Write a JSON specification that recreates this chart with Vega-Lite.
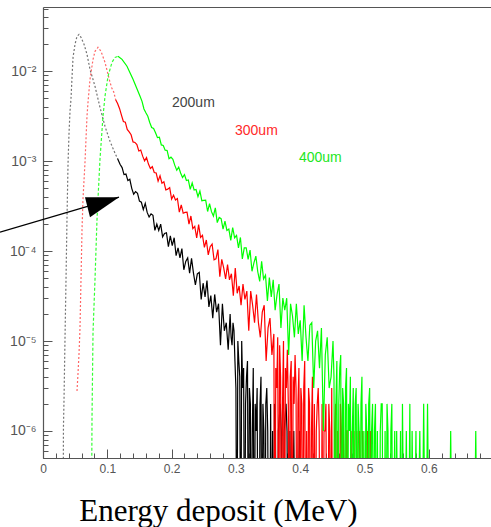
{
  "$schema": "https://vega.github.io/schema/vega-lite/v6.json",
  "width": 448,
  "height": 451,
  "autosize": {"type": "none"},
  "padding": {"left": 43, "top": 7, "right": 0, "bottom": 69},
  "background": "white",
  "config": {"view": {"stroke": null}},
  "datasets": {
    "e200": [
      {"E":0.031,"f":1e-8},{"E":0.0318,"f":1.1e-6},{"E":0.0327,"f":2.27e-6},{"E":0.0342,"f":1.05e-5},{"E":0.0358,"f":4.89e-5},{"E":0.0373,"f":2.27e-4},{"E":0.0389,"f":9.27e-4},{"E":0.0404,"f":2.0e-3},{"E":0.042,"f":3.6e-3},{"E":0.0435,"f":4.89e-3},{"E":0.0451,"f":8.57e-3},{"E":0.0467,"f":1.43e-2},{"E":0.0498,"f":2.0e-2},{"E":0.0529,"f":2.45e-2},{"E":0.056,"f":2.58e-2},{"E":0.0591,"f":2.39e-2},{"E":0.0638,"f":2.0e-2},{"E":0.0684,"f":1.55e-2},{"E":0.0731,"f":1.05e-2},{"E":0.077,"f":8.47e-3},{"E":0.0809,"f":6.81e-3},{"E":0.085,"f":5.12e-3},{"E":0.0886,"f":3.98e-3},{"E":0.0925,"f":3.12e-3},{"E":0.0964,"f":2.45e-3},{"E":0.1003,"f":2.02e-3},{"E":0.1042,"f":1.67e-3},{"E":0.1081,"f":1.43e-3},{"E":0.112,"f":1.23e-3},{"E":0.1159,"f":1.07e-3}
    ],
    "d200": [
      {"E":0.1159,"f":1.07e-3},{"E":0.1198,"f":9.27e-4},
      {"E":0.123,"f":8.5e-4},{"E":0.126,"f":7.1e-4},{"E":0.129,"f":7.2e-4},{"E":0.132,"f":6.1e-4},{"E":0.135,"f":6.3e-4},{"E":0.138,"f":5.0e-4},{"E":0.141,"f":4.3e-4},{"E":0.144,"f":4.6e-4},{"E":0.147,"f":4.4e-4},{"E":0.15,"f":3.6e-4},{"E":0.153,"f":3.5e-4},{"E":0.156,"f":2.9e-4},{"E":0.159,"f":3.4e-4},{"E":0.162,"f":2.7e-4},{"E":0.165,"f":2.4e-4},{"E":0.168,"f":2.6e-4},{"E":0.171,"f":2.5e-4},{"E":0.174,"f":1.7e-4},{"E":0.177,"f":2.0e-4},{"E":0.18,"f":1.7e-4},{"E":0.183,"f":2.0e-4},{"E":0.186,"f":1.44e-4},{"E":0.189,"f":1.57e-4},{"E":0.192,"f":1.6e-4},{"E":0.195,"f":1.12e-4},{"E":0.198,"f":1.48e-4},{"E":0.201,"f":1.15e-4},{"E":0.204,"f":1.41e-4},{"E":0.207,"f":8.9e-5},{"E":0.21,"f":1.09e-4},{"E":0.213,"f":8.4e-5},{"E":0.216,"f":1.07e-4},{"E":0.219,"f":6.2e-5},{"E":0.222,"f":7.7e-5},{"E":0.225,"f":8.4e-5},{"E":0.228,"f":5.7e-5},{"E":0.231,"f":8.3e-5},{"E":0.234,"f":5.7e-5},{"E":0.237,"f":4.2e-5},{"E":0.24,"f":5.6e-5},{"E":0.243,"f":5.8e-5},{"E":0.246,"f":2.9e-5},{"E":0.249,"f":4.4e-5},{"E":0.252,"f":3.1e-5},{"E":0.255,"f":4.7e-5},{"E":0.258,"f":2.4e-5},{"E":0.261,"f":3.2e-5},{"E":0.264,"f":1.8e-5},{"E":0.267,"f":3.3e-5},{"E":0.27,"f":2.1e-5},{"E":0.273,"f":2.6e-5},{"E":0.276,"f":9e-6},{"E":0.279,"f":2.6e-5},{"E":0.282,"f":1.3e-5},{"E":0.285,"f":1.6e-5},{"E":0.288,"f":8e-6},{"E":0.291,"f":2.0e-5},{"E":0.294,"f":9e-6},{"E":0.297,"f":1.3e-5},{"E":0.3,"f":3e-6},{"E":0.303,"f":1e-5},{"E":0.306,"f":4e-6},{"E":0.309,"f":1e-5},{"E":0.312,"f":5e-6},{"E":0.315,"f":2e-6},{"E":0.318,"f":6e-6},{"E":0.321,"f":3e-6},{"E":0.324,"f":1e-8},{"E":0.327,"f":5e-6},{"E":0.33,"f":2e-6},{"E":0.333,"f":3e-6},{"E":0.336,"f":1e-8},{"E":0.339,"f":4e-6},{"E":0.342,"f":2e-6},{"E":0.345,"f":1e-8},{"E":0.348,"f":3e-6},{"E":0.351,"f":1e-8},{"E":0.354,"f":2e-6},{"E":0.357,"f":1e-6},{"E":0.36,"f":2e-6},{"E":0.363,"f":1e-8},{"E":0.366,"f":1e-6},{"E":0.369,"f":2e-6},{"E":0.372,"f":1e-8},{"E":0.375,"f":1e-6},{"E":0.378,"f":2e-6},{"E":0.381,"f":1e-8},{"E":0.384,"f":1e-6},{"E":0.387,"f":1e-8},{"E":0.39,"f":1e-6},{"E":0.393,"f":1e-8},{"E":0.399,"f":1e-6},{"E":0.402,"f":1e-8},
      {"E":0.2925,"f":1.1e-5},{"E":0.2955,"f":1.6e-5},{"E":0.2985,"f":6e-6},{"E":0.3015,"f":1e-8},{"E":0.3045,"f":6e-6},{"E":0.3075,"f":1e-8},{"E":0.3105,"f":3e-6},{"E":0.3135,"f":1e-8},{"E":0.3165,"f":4e-6},{"E":0.3195,"f":1e-8},{"E":0.3225,"f":2e-6},{"E":0.3255,"f":1e-6},{"E":0.3285,"f":1e-8},{"E":0.3315,"f":1e-6},{"E":0.3345,"f":1e-8},{"E":0.3375,"f":2e-6},{"E":0.3405,"f":1e-8},{"E":0.3435,"f":1e-6},{"E":0.3465,"f":2e-6},{"E":0.3495,"f":1e-6},{"E":0.3525,"f":1e-8},{"E":0.3555,"f":1e-8},{"E":0.3585,"f":1e-8},{"E":0.3615,"f":1e-6},{"E":0.3645,"f":1e-8},{"E":0.3705,"f":1e-6},{"E":0.3735,"f":1e-8},{"E":0.3795,"f":1e-6},{"E":0.3825,"f":1e-8}
    ],
    "e300": [
      {"E":0.0529,"f":2.78e-6},{"E":0.0544,"f":4.3e-6},{"E":0.056,"f":7.2e-6},{"E":0.0575,"f":1.36e-5},{"E":0.0591,"f":4.89e-5},{"E":0.0607,"f":1.75e-4},{"E":0.0622,"f":3.78e-4},{"E":0.0653,"f":9.75e-4},{"E":0.0684,"f":3.16e-3},{"E":0.07,"f":4.53e-3},{"E":0.0731,"f":8.15e-3},{"E":0.0778,"f":1.36e-2},{"E":0.0809,"f":1.67e-2},{"E":0.0855,"f":1.85e-2},{"E":0.0902,"f":1.67e-2},{"E":0.0964,"f":1.26e-2},{"E":0.1042,"f":7.55e-3},{"E":0.107,"f":6.53e-3},{"E":0.11,"f":5.9e-3},{"E":0.113,"f":4.83e-3}
    ],
    "d300": [
      {"E":0.113,"f":4.83e-3},{"E":0.116,"f":4.38e-3},{"E":0.119,"f":3.87e-3},{"E":0.122,"f":3.26e-3},{"E":0.125,"f":2.77e-3},{"E":0.128,"f":2.72e-3},{"E":0.131,"f":2.26e-3},{"E":0.134,"f":2.12e-3},{"E":0.137,"f":1.97e-3},{"E":0.14,"f":1.64e-3},{"E":0.143,"f":1.62e-3},{"E":0.146,"f":1.53e-3},{"E":0.149,"f":1.3e-3},{"E":0.152,"f":1.33e-3},{"E":0.155,"f":1.14e-3},{"E":0.158,"f":1.01e-3},{"E":0.161,"f":1.1e-3},{"E":0.164,"f":9.3e-4},{"E":0.167,"f":8.3e-4},{"E":0.17,"f":8.7e-4},{"E":0.173,"f":7.5e-4},{"E":0.176,"f":7.4e-4},{"E":0.179,"f":6.0e-4},{"E":0.182,"f":6.9e-4},{"E":0.185,"f":5.7e-4},{"E":0.188,"f":5.9e-4},{"E":0.191,"f":4.8e-4},{"E":0.194,"f":4.9e-4},{"E":0.197,"f":5.1e-4},{"E":0.2,"f":3.8e-4},{"E":0.203,"f":4.2e-4},{"E":0.206,"f":3.7e-4},{"E":0.209,"f":3.85e-4},{"E":0.212,"f":2.72e-4},{"E":0.215,"f":3.27e-4},{"E":0.218,"f":2.64e-4},{"E":0.221,"f":2.7e-4},{"E":0.224,"f":2.71e-4},{"E":0.227,"f":2.0e-4},{"E":0.23,"f":2.46e-4},{"E":0.233,"f":1.78e-4},{"E":0.236,"f":1.89e-4},{"E":0.239,"f":1.4e-4},{"E":0.242,"f":1.97e-4},{"E":0.245,"f":1.42e-4},{"E":0.248,"f":1.5e-4},{"E":0.251,"f":1.1e-4},{"E":0.254,"f":1.33e-4},{"E":0.257,"f":9.1e-5},{"E":0.26,"f":1.12e-4},{"E":0.263,"f":1.2e-4},{"E":0.266,"f":8.0e-5},{"E":0.269,"f":8.2e-5},{"E":0.272,"f":1.04e-4},{"E":0.275,"f":5.2e-5},{"E":0.278,"f":8.1e-5},{"E":0.281,"f":6.5e-5},{"E":0.284,"f":4.9e-5},{"E":0.287,"f":7.1e-5},{"E":0.29,"f":4.8e-5},{"E":0.293,"f":5.6e-5},{"E":0.296,"f":3.2e-5},{"E":0.299,"f":6.5e-5},{"E":0.302,"f":3.4e-5},{"E":0.305,"f":4.1e-5},{"E":0.308,"f":2.5e-5},{"E":0.311,"f":4.3e-5},{"E":0.314,"f":2.9e-5},{"E":0.317,"f":3.6e-5},{"E":0.32,"f":1.3e-5},{"E":0.323,"f":3.6e-5},{"E":0.326,"f":2.5e-5},{"E":0.329,"f":1.6e-5},{"E":0.332,"f":3.3e-5},{"E":0.335,"f":1.6e-5},{"E":0.338,"f":1.1e-5},{"E":0.341,"f":2.1e-5},{"E":0.344,"f":2.5e-5},{"E":0.347,"f":6e-6},{"E":0.35,"f":1.4e-5},{"E":0.353,"f":1.8e-5},{"E":0.356,"f":7e-6},{"E":0.359,"f":1.2e-5},{"E":0.362,"f":5e-6},{"E":0.365,"f":1.1e-5},{"E":0.368,"f":9e-6},{"E":0.371,"f":1e-8},{"E":0.374,"f":1.0e-5},{"E":0.377,"f":5e-6},{"E":0.38,"f":8e-6},{"E":0.383,"f":1e-8},{"E":0.386,"f":6e-6},{"E":0.389,"f":4e-6},{"E":0.392,"f":7e-6},{"E":0.395,"f":1e-8},{"E":0.398,"f":5e-6},{"E":0.401,"f":3e-6},{"E":0.404,"f":1e-8},{"E":0.407,"f":6e-6},{"E":0.41,"f":1e-6},{"E":0.413,"f":3e-6},{"E":0.416,"f":1e-8},{"E":0.419,"f":4e-6},{"E":0.422,"f":2e-6},{"E":0.425,"f":1e-6},{"E":0.428,"f":3e-6},{"E":0.431,"f":1e-8},{"E":0.434,"f":2e-6},{"E":0.437,"f":1e-6},{"E":0.44,"f":2e-6},{"E":0.443,"f":1e-8},{"E":0.446,"f":1e-6},{"E":0.449,"f":3e-6},{"E":0.452,"f":1e-8},{"E":0.455,"f":2e-6},{"E":0.458,"f":1e-6},{"E":0.461,"f":1e-8},{"E":0.464,"f":1e-6},{"E":0.467,"f":2e-6},{"E":0.47,"f":1e-8},{"E":0.473,"f":1e-6},{"E":0.476,"f":1e-8},{"E":0.479,"f":1e-6},{"E":0.482,"f":1e-8},{"E":0.488,"f":1e-6},{"E":0.491,"f":1e-8},{"E":0.497,"f":1e-6},{"E":0.5,"f":1e-8},{"E":0.509,"f":1e-6},{"E":0.512,"f":1e-8},
      {"E":0.3605,"f":1e-8},{"E":0.3635,"f":3e-6},{"E":0.3665,"f":1e-8},{"E":0.3695,"f":4e-6},{"E":0.3725,"f":2e-6},{"E":0.3755,"f":1e-8},{"E":0.3785,"f":3e-6},{"E":0.3815,"f":2e-6},{"E":0.3845,"f":4e-6},{"E":0.3875,"f":1e-8},{"E":0.3905,"f":2e-6},{"E":0.3935,"f":3e-6},{"E":0.3965,"f":2e-6},{"E":0.3995,"f":1e-8},{"E":0.4025,"f":2e-6},{"E":0.4055,"f":3e-6},{"E":0.4085,"f":1e-8},{"E":0.4115,"f":1e-8},{"E":0.4145,"f":2e-6},{"E":0.4175,"f":1e-6},{"E":0.4205,"f":1e-8},{"E":0.4235,"f":1e-8},{"E":0.4265,"f":2e-6},{"E":0.4295,"f":1e-6},{"E":0.4325,"f":1e-8},{"E":0.4355,"f":1e-8},{"E":0.4385,"f":1e-6},{"E":0.4415,"f":1e-8},{"E":0.4445,"f":2e-6},{"E":0.4475,"f":1e-8},{"E":0.4505,"f":1e-8},{"E":0.4535,"f":1e-6},{"E":0.4565,"f":1e-8},{"E":0.4595,"f":1e-8},{"E":0.4625,"f":2e-6},{"E":0.4655,"f":1e-8},{"E":0.4685,"f":1e-8},{"E":0.4715,"f":1e-6},{"E":0.4745,"f":1e-8},{"E":0.4835,"f":1e-6},{"E":0.4865,"f":1e-8},{"E":0.4925,"f":1e-6},{"E":0.4955,"f":1e-8},{"E":0.5045,"f":1e-6},{"E":0.506,"f":1e-8}
    ],
    "e400": [
      {"E":0.0747,"f":1e-8},{"E":0.0762,"f":1.36e-6},{"E":0.0778,"f":1.26e-5},{"E":0.0809,"f":4.89e-5},{"E":0.084,"f":2.27e-4},{"E":0.0855,"f":3.78e-4},{"E":0.0886,"f":1.05e-3},{"E":0.0933,"f":3.16e-3},{"E":0.0964,"f":5.28e-3},{"E":0.1011,"f":8.8e-3},{"E":0.1073,"f":1.26e-2},{"E":0.112,"f":1.43e-2},{"E":0.1166,"f":1.47e-2}
    ],
    "d400": [
      {"E":0.1166,"f":1.47e-2},{"E":0.1229,"f":1.36e-2},{"E":0.1306,"f":1.14e-2},{"E":0.14,"f":8.15e-3},{"E":0.1509,"f":5.28e-3},
      {"E":0.154,"f":4.64e-3},{"E":0.157,"f":3.82e-3},{"E":0.16,"f":3.46e-3},{"E":0.163,"f":3.17e-3},{"E":0.166,"f":2.7e-3},{"E":0.169,"f":2.37e-3},{"E":0.172,"f":2.32e-3},{"E":0.175,"f":2.07e-3},{"E":0.178,"f":1.83e-3},{"E":0.181,"f":1.85e-3},{"E":0.184,"f":1.52e-3},{"E":0.187,"f":1.5e-3},{"E":0.19,"f":1.33e-3},{"E":0.193,"f":1.32e-3},{"E":0.196,"f":1.07e-3},{"E":0.199,"f":1.11e-3},{"E":0.202,"f":1.05e-3},{"E":0.205,"f":9.0e-4},{"E":0.208,"f":7.95e-4},{"E":0.211,"f":8.6e-4},{"E":0.214,"f":7.4e-4},{"E":0.217,"f":6.6e-4},{"E":0.22,"f":7.1e-4},{"E":0.223,"f":6.1e-4},{"E":0.226,"f":6.2e-4},{"E":0.229,"f":4.87e-4},{"E":0.232,"f":5.74e-4},{"E":0.235,"f":4.79e-4},{"E":0.238,"f":4.85e-4},{"E":0.241,"f":4.03e-4},{"E":0.244,"f":4.67e-4},{"E":0.247,"f":3.64e-4},{"E":0.25,"f":3.67e-4},{"E":0.253,"f":3.7e-4},{"E":0.256,"f":2.76e-4},{"E":0.259,"f":3.38e-4},{"E":0.262,"f":2.75e-4},{"E":0.265,"f":2.46e-4},{"E":0.268,"f":3.03e-4},{"E":0.271,"f":2.08e-4},{"E":0.274,"f":2.37e-4},{"E":0.277,"f":2.3e-4},{"E":0.28,"f":1.76e-4},{"E":0.283,"f":2.16e-4},{"E":0.286,"f":1.7e-4},{"E":0.289,"f":1.76e-4},{"E":0.292,"f":1.32e-4},{"E":0.295,"f":1.83e-4},{"E":0.298,"f":1.41e-4},{"E":0.301,"f":1.5e-4},{"E":0.304,"f":1.09e-4},{"E":0.307,"f":1.42e-4},{"E":0.31,"f":8.2e-5},{"E":0.313,"f":1.09e-4},{"E":0.316,"f":1.09e-4},{"E":0.319,"f":8.1e-5},{"E":0.322,"f":1.03e-4},{"E":0.325,"f":5.97e-5},{"E":0.328,"f":7.4e-5},{"E":0.331,"f":8.8e-5},{"E":0.334,"f":5.9e-5},{"E":0.337,"f":4.6e-5},{"E":0.34,"f":7.7e-5},{"E":0.343,"f":4.9e-5},{"E":0.346,"f":5.4e-5},{"E":0.349,"f":2.8e-5},{"E":0.352,"f":5.1e-5},{"E":0.355,"f":3.1e-5},{"E":0.358,"f":4.8e-5},{"E":0.361,"f":2.2e-5},{"E":0.364,"f":3.3e-5},{"E":0.367,"f":4.3e-5},{"E":0.37,"f":1.4e-5},{"E":0.373,"f":3.0e-5},{"E":0.376,"f":2.2e-5},{"E":0.379,"f":3.0e-5},{"E":0.382,"f":7e-6},{"E":0.385,"f":2.6e-5},{"E":0.388,"f":1.9e-5},{"E":0.391,"f":1.1e-5},{"E":0.394,"f":2.6e-5},{"E":0.397,"f":1.2e-5},{"E":0.4,"f":1.7e-5},{"E":0.403,"f":6e-6},{"E":0.406,"f":2.5e-5},{"E":0.409,"f":1.1e-5},{"E":0.412,"f":6e-6},{"E":0.415,"f":1.5e-5},{"E":0.418,"f":1.6e-5},{"E":0.421,"f":3e-6},{"E":0.424,"f":1e-5},{"E":0.427,"f":1.3e-5},{"E":0.43,"f":5e-6},{"E":0.433,"f":1.4e-5},{"E":0.436,"f":1e-6},{"E":0.439,"f":7e-6},{"E":0.442,"f":1.1e-5},{"E":0.445,"f":3e-6},{"E":0.448,"f":4e-6},{"E":0.451,"f":1e-5},{"E":0.454,"f":1e-8},{"E":0.457,"f":6e-6},{"E":0.46,"f":2e-6},{"E":0.463,"f":7e-6},{"E":0.466,"f":3e-6},{"E":0.469,"f":1e-8},{"E":0.472,"f":5e-6},{"E":0.475,"f":2e-6},{"E":0.478,"f":4e-6},{"E":0.481,"f":1e-6},{"E":0.484,"f":1e-8},{"E":0.487,"f":3e-6},{"E":0.49,"f":2e-6},{"E":0.493,"f":1e-8},{"E":0.496,"f":4e-6},{"E":0.499,"f":1e-6},{"E":0.502,"f":2e-6},{"E":0.505,"f":1e-8},{"E":0.508,"f":3e-6},{"E":0.511,"f":1e-6},{"E":0.514,"f":1e-8},{"E":0.517,"f":2e-6},{"E":0.52,"f":1e-6},{"E":0.523,"f":1e-8},{"E":0.526,"f":2e-6},{"E":0.529,"f":1e-8},{"E":0.532,"f":1e-6},{"E":0.535,"f":2e-6},{"E":0.538,"f":1e-8},{"E":0.541,"f":1e-6},{"E":0.544,"f":1e-8},{"E":0.55,"f":1e-6},{"E":0.553,"f":1e-8},{"E":0.559,"f":2e-6},{"E":0.562,"f":1e-8},{"E":0.565,"f":1e-6},{"E":0.568,"f":1e-8},{"E":0.574,"f":1e-6},{"E":0.577,"f":1e-8},{"E":0.586,"f":1e-6},{"E":0.589,"f":1e-8},{"E":0.592,"f":2e-6},{"E":0.595,"f":1e-8},{"E":0.598,"f":2e-6},{"E":0.601,"f":1e-8},{"E":0.631,"f":1e-8},{"E":0.634,"f":1e-6},{"E":0.637,"f":1e-8},{"E":0.67,"f":1e-8},{"E":0.673,"f":1e-6},{"E":0.676,"f":1e-8},
      {"E":0.4525,"f":4e-6},{"E":0.4555,"f":2e-6},{"E":0.4585,"f":1e-8},{"E":0.4615,"f":5e-6},{"E":0.4645,"f":1e-8},{"E":0.4675,"f":2e-6},{"E":0.4705,"f":3e-6},{"E":0.4735,"f":1e-8},{"E":0.4765,"f":1e-6},{"E":0.4795,"f":1e-8},{"E":0.4825,"f":3e-6},{"E":0.4855,"f":2e-6},{"E":0.4885,"f":1e-8},{"E":0.4915,"f":1e-6},{"E":0.4945,"f":2e-6},{"E":0.4975,"f":1e-8},{"E":0.5005,"f":1e-8},{"E":0.5035,"f":1e-6},{"E":0.5065,"f":2e-6},{"E":0.5095,"f":1e-8},{"E":0.5125,"f":2e-6},{"E":0.5155,"f":1e-6},{"E":0.5185,"f":1e-8},{"E":0.5215,"f":1e-8},{"E":0.5245,"f":1e-6},{"E":0.5275,"f":2e-6},{"E":0.5305,"f":1e-8},{"E":0.5335,"f":1e-8},{"E":0.5365,"f":1e-6},{"E":0.5395,"f":1e-8},{"E":0.5425,"f":2e-6},{"E":0.547,"f":1e-6},{"E":0.5485,"f":1e-8},{"E":0.556,"f":1e-6},{"E":0.5575,"f":1e-8},{"E":0.5705,"f":2e-6},{"E":0.572,"f":1e-8},{"E":0.58,"f":1e-6},{"E":0.5815,"f":1e-8}
    ],
    "labels": [
      {"E":0.2006,"f":4.41e-3,"s":"200um"},
      {"E":0.2986,"f":2.15e-3,"s":"300um"},
      {"E":0.398,"f":1.08e-3,"s":"400um"}
    ],
    "arrowLine": [
      {"E":-0.0669,"f":1.63e-4},
      {"E":0.1182,"f":3.98e-4}
    ],
    "arrowHead": [
      {"E":0.0653,"f":3.98e-4,"f2":3.98e-4},
      {"E":0.0731,"f":3.98e-4,"f2":2.39e-4},
      {"E":0.1182,"f":3.98e-4,"f2":3.98e-4}
    ]
  },
  "resolve": {"axis": {"x": "independent"}},
  "encoding": {
    "y": {"field": "f", "type": "quantitative", "scale": {"type": "log", "domain": [5e-7, 0.052], "nice": false},
      "axis": {
        "orient": "left",
        "values": [5e-7,6e-7,7e-7,8e-7,9e-7,1e-6,2e-6,3e-6,4e-6,5e-6,6e-6,7e-6,8e-6,9e-6,1e-5,2e-5,3e-5,4e-5,5e-5,6e-5,7e-5,8e-5,9e-5,1e-4,2e-4,3e-4,4e-4,5e-4,6e-4,7e-4,8e-4,9e-4,1e-3,2e-3,3e-3,4e-3,5e-3,6e-3,7e-3,8e-3,9e-3,1e-2,2e-2,3e-2,4e-2,5e-2],
        "labelExpr": "abs(log(datum.value)/LN10 - round(log(datum.value)/LN10)) < 0.01 ? (round(log(datum.value)/LN10) == -2 ? '10⁻²' : round(log(datum.value)/LN10) == -3 ? '10⁻³' : round(log(datum.value)/LN10) == -4 ? '10⁻⁴' : round(log(datum.value)/LN10) == -5 ? '10⁻⁵' : '10⁻⁶') : ''",
        "tickSize": {"condition": {"test": "abs(log(datum.value)/LN10 - round(log(datum.value)/LN10)) < 0.01", "value": -9}, "value": -5},
        "tickColor": "#555555", "tickWidth": 1,
        "domainColor": "#555555", "domainWidth": 1.2,
        "labelColor": "#555555", "labelFont": "Liberation Sans", "labelFontSize": 14,
        "labelPadding": 16, "labelFlush": false, "labelOverlap": false, "labelBaseline": "middle",
        "grid": false, "title": null
      }
    }
  },
  "layer": [
    {
      "data": {"name": "d200"},
      "mark": {"type": "line", "color": "#000000", "strokeWidth": 1.2, "clip": true},
      "encoding": {
        "x": {"field": "E", "type": "quantitative", "scale": {"domain": [0, 0.6967], "nice": false, "zero": false},
          "axis": {
            "orient": "bottom",
            "values": [0,0.02,0.04,0.06,0.08,0.1,0.12,0.14,0.16,0.18,0.2,0.22,0.24,0.26,0.28,0.3,0.32,0.34,0.36,0.38,0.4,0.42,0.44,0.46,0.48,0.5,0.52,0.54,0.56,0.58,0.6,0.62,0.64,0.66,0.68],
            "labelExpr": "abs(datum.value*10 - round(datum.value*10)) < 0.001 ? (datum.value == 0 ? '0' : format(datum.value, '.1f')) : ''",
            "tickSize": {"condition": {"test": "abs(datum.value*10 - round(datum.value*10)) < 0.001", "value": -9}, "value": -5},
            "tickColor": "#555555", "tickWidth": 1,
            "domainColor": "#555555", "domainWidth": 1.2,
            "labelColor": "#555555", "labelFont": "Liberation Sans", "labelFontSize": 12,
            "labelPadding": 14, "labelFlush": false, "labelOverlap": false,
            "grid": false,
            "title": "Energy deposit (MeV)", "titleFont": "Liberation Serif", "titleFontSize": 31,
            "titleFontWeight": "normal", "titleColor": "#000000",
            "titleX": 175, "titleY": 62, "titleBaseline": "alphabetic", "titleAlign": "center"
          }
        }
      }
    },
    {
      "data": {"name": "e200"},
      "mark": {"type": "line", "color": "#000000", "strokeWidth": 1.2, "strokeDash": [2, 2], "opacity": 0.55, "clip": true},
      "encoding": {"x": {"field": "E", "type": "quantitative", "axis": null}}
    },
    {
      "data": {"name": "d300"},
      "mark": {"type": "line", "color": "#ff0000", "strokeWidth": 1.2, "clip": true},
      "encoding": {"x": {"field": "E", "type": "quantitative", "axis": null}}
    },
    {
      "data": {"name": "e300"},
      "mark": {"type": "line", "color": "#ff0000", "strokeWidth": 1.2, "strokeDash": [2, 2], "opacity": 0.6, "clip": true},
      "encoding": {"x": {"field": "E", "type": "quantitative", "axis": null}}
    },
    {
      "data": {"name": "d400"},
      "mark": {"type": "line", "color": "#00ff00", "strokeWidth": 1.2, "clip": true},
      "encoding": {"x": {"field": "E", "type": "quantitative", "axis": null}}
    },
    {
      "data": {"name": "e400"},
      "mark": {"type": "line", "color": "#00ff00", "strokeWidth": 1.2, "strokeDash": [3, 2], "opacity": 0.8, "clip": true},
      "encoding": {"x": {"field": "E", "type": "quantitative", "axis": null}}
    },
    {
      "data": {"name": "labels"},
      "mark": {"type": "text", "align": "left", "baseline": "middle", "font": "Liberation Sans", "fontSize": 14},
      "encoding": {
        "x": {"field": "E", "type": "quantitative",
          "axis": {"orient": "top", "labels": false, "ticks": false, "title": null, "grid": false, "domainColor": "#555555", "domainWidth": 1.2}},
        "text": {"field": "s"},
        "color": {"field": "s", "type": "nominal", "legend": null,
          "scale": {"domain": ["200um", "300um", "400um"], "range": ["#444444", "#ff2a2a", "#22e622"]}}
      }
    },
    {
      "data": {"name": "arrowLine"},
      "mark": {"type": "line", "color": "#000000", "strokeWidth": 1.3, "clip": false},
      "encoding": {"x": {"field": "E", "type": "quantitative", "axis": null}}
    },
    {
      "data": {"name": "arrowHead"},
      "mark": {"type": "area", "color": "#000000", "opacity": 1, "clip": false},
      "encoding": {
        "x": {"field": "E", "type": "quantitative", "axis": null},
        "y2": {"field": "f2"}
      }
    }
  ]
}
